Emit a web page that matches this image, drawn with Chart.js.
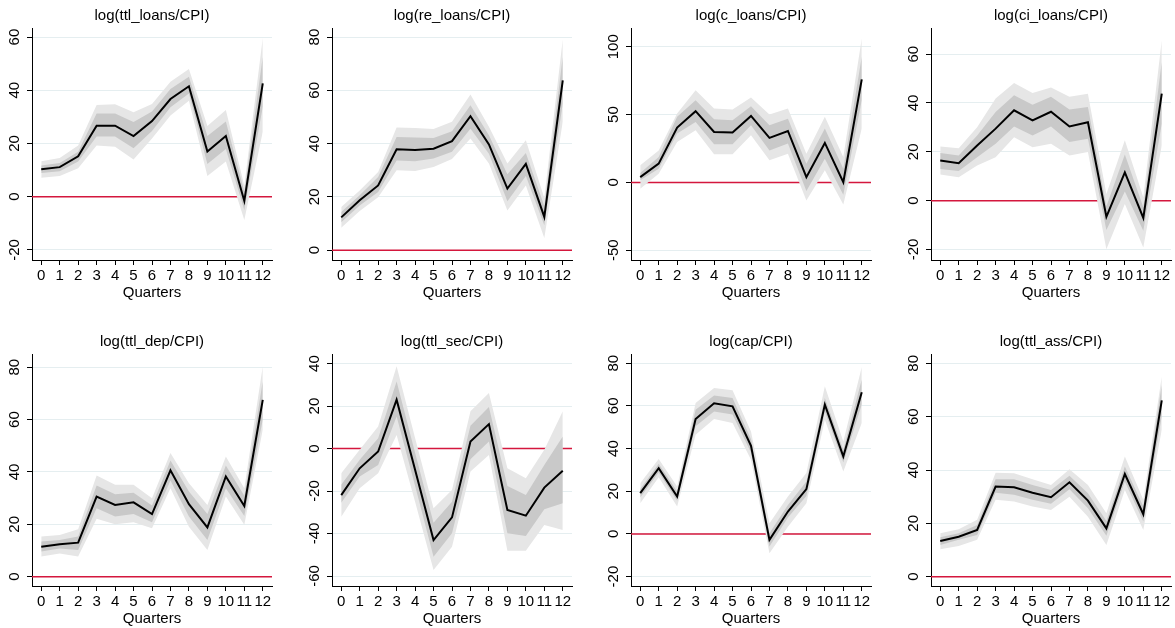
<!DOCTYPE html>
<html>
<head>
<meta charset="utf-8">
<script src="https://cdn.jsdelivr.net/npm/chart.js@4.4.1/dist/chart.umd.min.js"></script>
<style>
  html, body { margin: 0; padding: 0; background: #fff; }
  body { position: relative; width: 1175px; height: 628px; overflow: hidden; }
  canvas { position: absolute; }
</style>
</head>
<body>
<script>
// Horizon (quarters) of the impulse responses
const QUARTERS = [0, 1, 2, 3, 4, 5, 6, 7, 8, 9, 10, 11, 12];

// log(ttl_loans/CPI): point response, inner band (lo1/hi1), outer band (lo2/hi2)
const TTL_LOANS     = [10.3, 11.1, 15.2, 26.7, 26.7, 22.8, 28.4, 36.7, 41.5, 17.0, 22.8, -1.6, 42.6];
const TTL_LOANS_LO1 = [8.9, 9.6, 13.2, 22.6, 22.6, 18.2, 24.7, 33.6, 38.8, 12.3, 17.9, -5.0, 33.8];
const TTL_LOANS_HI1 = [11.7, 12.7, 16.9, 31.3, 31.3, 28.1, 32.0, 40.5, 45.1, 22.8, 28.3, 1.9, 52.6];
const TTL_LOANS_LO2 = [7.1, 7.8, 10.7, 19.2, 18.8, 14.0, 21.9, 30.5, 36.1, 7.8, 13.2, -8.8, 24.4];
const TTL_LOANS_HI2 = [13.3, 14.5, 19.2, 34.5, 34.7, 31.7, 34.8, 43.2, 48.0, 26.6, 32.6, 4.1, 59.6];
const TTL_LOANS_TICKS = [-20, 0, 20, 40, 60];

// log(re_loans/CPI)
const RE_LOANS     = [12.3, 18.7, 24.3, 37.9, 37.6, 38.1, 40.9, 50.3, 39.7, 23.1, 32.4, 12.5, 63.7];
const RE_LOANS_LO1 = [10.5, 16.8, 21.8, 33.7, 33.4, 34.4, 36.9, 45.6, 36.2, 18.4, 27.8, 9.3, 55.0];
const RE_LOANS_HI1 = [14.3, 20.6, 27.5, 42.5, 42.3, 42.1, 44.6, 54.4, 43.1, 28.5, 36.5, 16.6, 72.6];
const RE_LOANS_LO2 = [8.4, 14.7, 19.9, 30.0, 29.7, 31.2, 34.2, 41.9, 32.5, 14.9, 24.3, 4.6, 48.2];
const RE_LOANS_HI2 = [16.2, 22.4, 29.3, 46.0, 45.9, 45.5, 48.2, 58.4, 46.3, 32.5, 41.3, 19.6, 79.2];
const RE_LOANS_TICKS = [0, 20, 40, 60, 80];

// log(c_loans/CPI)
const C_LOANS     = [3.9, 13.8, 40.4, 52.5, 37.2, 36.7, 49.0, 32.8, 37.9, 3.9, 29.1, 0.2, 75.9];
const C_LOANS_LO1 = [1.5, 10.1, 36.0, 44.6, 28.1, 28.1, 42.1, 23.6, 28.6, -6.4, 17.5, -9.1, 60.6];
const C_LOANS_HI1 = [6.9, 18.7, 48.3, 60.6, 46.6, 45.8, 56.2, 42.1, 47.0, 13.8, 39.7, 10.1, 92.6];
const C_LOANS_LO2 = [-4.7, 6.4, 29.8, 38.4, 20.7, 20.7, 34.7, 16.3, 21.2, -13.3, 8.9, -16.3, 39.7];
const C_LOANS_HI2 = [12.6, 23.6, 50.7, 68.0, 54.4, 53.7, 62.6, 50.0, 54.4, 21.2, 48.3, 18.7, 106.0];
const C_LOANS_TICKS = [-50, 0, 50, 100];

// log(ci_loans/CPI)
const CI_LOANS     = [16.4, 15.3, 22.6, 29.5, 37.0, 32.9, 36.4, 30.4, 32.1, -6.6, 11.6, -7.1, 43.8];
const CI_LOANS_LO1 = [13.0, 12.1, 17.8, 23.3, 30.4, 26.7, 30.4, 24.0, 25.3, -12.0, 3.8, -12.3, 31.5];
const CI_LOANS_HI1 = [19.5, 18.5, 26.7, 36.3, 43.2, 39.3, 42.5, 37.3, 38.4, -2.3, 18.9, -2.7, 56.8];
const CI_LOANS_LO2 = [10.7, 9.6, 14.4, 17.8, 26.0, 21.9, 23.3, 18.5, 19.9, -19.9, -1.4, -19.2, 22.6];
const CI_LOANS_HI2 = [22.2, 21.5, 30.1, 41.8, 48.2, 44.1, 46.3, 42.5, 43.8, 2.7, 24.7, 1.4, 65.7];
const CI_LOANS_TICKS = [-20, 0, 20, 40, 60];

// log(ttl_dep/CPI)
const TTL_DEP     = [11.4, 12.4, 13.0, 30.6, 27.4, 28.4, 23.9, 40.6, 27.7, 18.8, 38.3, 27.0, 67.5];
const TTL_DEP_LO1 = [9.6, 10.8, 10.2, 26.1, 23.0, 23.9, 20.8, 36.7, 23.0, 14.0, 33.8, 23.2, 60.0];
const TTL_DEP_HI1 = [13.4, 14.0, 15.3, 34.8, 31.5, 32.1, 27.2, 44.4, 32.5, 23.9, 42.5, 30.9, 74.6];
const TTL_DEP_LO2 = [7.7, 8.9, 7.7, 22.1, 20.0, 20.8, 18.5, 33.8, 19.1, 10.2, 30.6, 19.8, 56.1];
const TTL_DEP_HI2 = [15.3, 15.9, 18.1, 38.6, 35.1, 35.1, 30.0, 47.2, 35.7, 27.4, 45.9, 33.8, 80.4];
const TTL_DEP_TICKS = [0, 20, 40, 60, 80];

// log(ttl_sec/CPI)
const TTL_SEC     = [-21.9, -9.3, -1.4, 23.0, -10.0, -43.1, -32.4, 3.3, 11.5, -28.9, -31.6, -18.4, -10.5];
const TTL_SEC_LO1 = [-25.5, -13.2, -7.7, 15.1, -17.5, -50.9, -39.9, -5.0, 3.3, -39.9, -41.2, -28.6, -25.8];
const TTL_SEC_HI1 = [-17.1, -5.3, 4.9, 31.6, -2.0, -34.9, -25.0, 10.7, 19.5, -17.6, -21.9, -7.7, 5.7];
const TTL_SEC_LO2 = [-32.1, -18.7, -11.6, 6.4, -25.0, -57.2, -46.2, -10.8, -3.0, -48.1, -48.1, -36.0, -38.4];
const TTL_SEC_HI2 = [-11.6, -0.6, 10.4, 38.7, 5.0, -28.1, -19.5, 17.5, 26.1, -9.3, -14.0, -0.6, 17.5];
const TTL_SEC_TICKS = [-60, -40, -20, 0, 20, 40];

// log(cap/CPI)
const CAP     = [19.1, 30.8, 17.5, 53.8, 61.2, 59.8, 41.3, -2.8, 10.5, 21.0, 60.6, 36.3, 66.4];
const CAP_LO1 = [17.1, 28.8, 15.5, 50.4, 57.4, 55.9, 38.2, -5.9, 7.7, 17.8, 57.4, 33.5, 60.6];
const CAP_HI1 = [21.0, 32.9, 19.9, 58.2, 64.8, 63.7, 44.4, 0.3, 13.6, 24.6, 63.7, 39.4, 72.3];
const CAP_LO2 = [14.4, 26.6, 12.8, 46.5, 53.8, 52.0, 34.7, -9.1, 3.4, 14.4, 53.5, 29.3, 52.0];
const CAP_HI2 = [23.8, 35.1, 22.2, 61.3, 68.4, 67.3, 48.0, 5.0, 17.5, 28.5, 69.2, 43.3, 78.2];
const CAP_TICKS = [-20, 0, 20, 40, 60, 80];

// log(ttl_ass/CPI)
const TTL_ASS     = [13.4, 15.0, 17.5, 33.8, 33.5, 31.5, 29.8, 35.4, 28.5, 18.1, 38.5, 23.4, 66.1];
const TTL_ASS_LO1 = [11.9, 13.8, 15.6, 31.5, 30.7, 28.8, 27.3, 32.8, 25.7, 15.3, 35.7, 20.7, 60.1];
const TTL_ASS_HI1 = [14.8, 16.3, 19.4, 36.5, 36.5, 34.4, 32.5, 37.8, 31.3, 20.9, 41.3, 26.3, 72.0];
const TTL_ASS_LO2 = [10.3, 11.5, 13.8, 28.8, 28.2, 26.3, 25.0, 30.0, 22.5, 11.9, 32.5, 17.5, 55.1];
const TTL_ASS_HI2 = [16.3, 17.8, 21.3, 39.0, 38.8, 36.5, 34.4, 40.3, 34.4, 23.8, 45.1, 28.8, 75.1];
const TTL_ASS_TICKS = [0, 20, 40, 60, 80];

// Panels in reading order (two rows of four)
const PANELS = [
  { title: 'log(ttl_loans/CPI)', irf: TTL_LOANS, lo1: TTL_LOANS_LO1, hi1: TTL_LOANS_HI1, lo2: TTL_LOANS_LO2, hi2: TTL_LOANS_HI2, ticks: TTL_LOANS_TICKS, yMin: -23.8, yMax: 63.4 },
  { title: 'log(re_loans/CPI)',  irf: RE_LOANS,  lo1: RE_LOANS_LO1,  hi1: RE_LOANS_HI1,  lo2: RE_LOANS_LO2,  hi2: RE_LOANS_HI2,  ticks: RE_LOANS_TICKS,  yMin: -3.7, yMax: 83.4 },
  { title: 'log(c_loans/CPI)',   irf: C_LOANS,   lo1: C_LOANS_LO1,   hi1: C_LOANS_HI1,   lo2: C_LOANS_LO2,   hi2: C_LOANS_HI2,   ticks: C_LOANS_TICKS,   yMin: -57.2, yMax: 113.8 },
  { title: 'log(ci_loans/CPI)',  irf: CI_LOANS,  lo1: CI_LOANS_LO1,  hi1: CI_LOANS_HI1,  lo2: CI_LOANS_LO2,  hi2: CI_LOANS_HI2,  ticks: CI_LOANS_TICKS,  yMin: -24.3, yMax: 70.7 },
  { title: 'log(ttl_dep/CPI)',   irf: TTL_DEP,   lo1: TTL_DEP_LO1,   hi1: TTL_DEP_HI1,   lo2: TTL_DEP_LO2,   hi2: TTL_DEP_HI2,   ticks: TTL_DEP_TICKS,   yMin: -3.56, yMax: 85.05 },
  { title: 'log(ttl_sec/CPI)',   irf: TTL_SEC,   lo1: TTL_SEC_LO1,   hi1: TTL_SEC_HI1,   lo2: TTL_SEC_LO2,   hi2: TTL_SEC_HI2,   ticks: TTL_SEC_TICKS,   yMin: -64.7, yMax: 44.5 },
  { title: 'log(cap/CPI)',       irf: CAP,       lo1: CAP_LO1,       hi1: CAP_HI1,       lo2: CAP_LO2,       hi2: CAP_HI2,       ticks: CAP_TICKS,       yMin: -24.4, yMax: 84.3 },
  { title: 'log(ttl_ass/CPI)',   irf: TTL_ASS,   lo1: TTL_ASS_LO1,   hi1: TTL_ASS_HI1,   lo2: TTL_ASS_LO2,   hi2: TTL_ASS_HI2,   ticks: TTL_ASS_TICKS,   yMin: -3.5, yMax: 83.5 }
];

// Layout and style
const X_MIN = -0.5, X_MAX = 12.5;
const COL_LEFT = [0, 300, 599, 899];
const ROW_TOP = [0, 326];
const Y_AXIS_W = 32, X_AXIS_H = 42, RIGHT_PAD = 4;
const PLOT_W = 240;
const CANVAS_W = Y_AXIS_W + PLOT_W + RIGHT_PAD;
const CANVAS_H = 302;
const TICK_LEN = 5;
const LABEL_GAP = 17;          // distance from axis line to centre of rotated y labels
const FONT = '"Liberation Sans", Arial, Helvetica, sans-serif';
const FONT_SIZE = 15;
const OUTER_BAND = '#e6e6e6';
const INNER_BAND = '#c9c9c9';
const ZERO_LINE = '#d4173d';
const GRID = '#e5eef0';

const measureCtx = document.createElement('canvas').getContext('2d');
measureCtx.font = FONT_SIZE + 'px ' + FONT;
function yLabelPadding(ticks) {
  const widest = Math.max(...ticks.map(t => measureCtx.measureText(String(t)).width));
  return LABEL_GAP - TICK_LEN - widest / 2;
}

const toPoints = arr => QUARTERS.map((q, k) => ({ x: q, y: arr[k] }));

function bandEdge(arr, order) {
  return { data: toPoints(arr), borderWidth: 0, borderColor: 'rgba(0,0,0,0)', pointRadius: 0, fill: false, order };
}
function bandFill(arr, color, order) {
  return { data: toPoints(arr), borderWidth: 0, borderColor: 'rgba(0,0,0,0)', pointRadius: 0, fill: '-1', backgroundColor: color, order };
}

PANELS.forEach((p, i) => {
  const canvas = document.createElement('canvas');
  canvas.width = CANVAS_W;
  canvas.height = CANVAS_H;
  canvas.style.width = CANVAS_W + 'px';
  canvas.style.height = CANVAS_H + 'px';
  canvas.style.left = COL_LEFT[i % 4] + 'px';
  canvas.style.top = ROW_TOP[Math.floor(i / 4)] + 'px';
  document.body.appendChild(canvas);

  new Chart(canvas, {
    type: 'line',
    data: {
      datasets: [
        { data: [{ x: X_MIN, y: 0 }, { x: X_MAX, y: 0 }], borderColor: ZERO_LINE, borderWidth: 1.5, pointRadius: 0, fill: false, order: 3 },
        bandEdge(p.hi2, 2),
        bandFill(p.lo2, OUTER_BAND, 2),
        bandEdge(p.hi1, 1),
        bandFill(p.lo1, INNER_BAND, 1),
        { data: toPoints(p.irf), borderColor: '#000', borderWidth: 2, pointRadius: 0, fill: false, tension: 0, order: 0 }
      ]
    },
    options: {
      responsive: false,
      animation: false,
      events: [],
      layout: { padding: { left: 0, right: RIGHT_PAD, top: 0, bottom: 0 } },
      plugins: {
        legend: { display: false },
        tooltip: { enabled: false },
        title: {
          display: true,
          text: p.title,
          fullSize: false,
          color: '#000',
          font: { family: FONT, size: FONT_SIZE, weight: 'normal' },
          padding: { top: 7, bottom: 3 }
        }
      },
      scales: {
        x: {
          type: 'linear',
          min: X_MIN,
          max: X_MAX,
          afterBuildTicks: ax => { ax.ticks = QUARTERS.map(v => ({ value: v })); },
          afterFit: ax => { ax.height = X_AXIS_H; },
          grid: { drawOnChartArea: false, drawTicks: true, tickLength: TICK_LEN, tickColor: '#000', tickWidth: 1 },
          border: { display: true, color: '#000', width: 1 },
          ticks: { autoSkip: false, minRotation: 0, maxRotation: 0, padding: 2, color: '#000', font: { family: FONT, size: FONT_SIZE } },
          title: { display: true, text: 'Quarters', color: '#000', font: { family: FONT, size: FONT_SIZE }, padding: { top: 0, bottom: 0.5 } }
        },
        y: {
          type: 'linear',
          min: p.yMin,
          max: p.yMax,
          afterBuildTicks: ax => { ax.ticks = p.ticks.map(v => ({ value: v })); },
          afterFit: ax => { ax.width = Y_AXIS_W; },
          grid: { color: GRID, lineWidth: 1, drawTicks: true, tickLength: TICK_LEN, tickColor: '#000', tickWidth: 1 },
          border: { display: true, color: '#000', width: 1 },
          ticks: {
            autoSkip: false,
            minRotation: 90,
            maxRotation: 90,
            crossAlign: 'center',
            padding: yLabelPadding(p.ticks),
            color: '#000',
            font: { family: FONT, size: FONT_SIZE }
          }
        }
      }
    }
  });
});
</script>
</body>
</html>
